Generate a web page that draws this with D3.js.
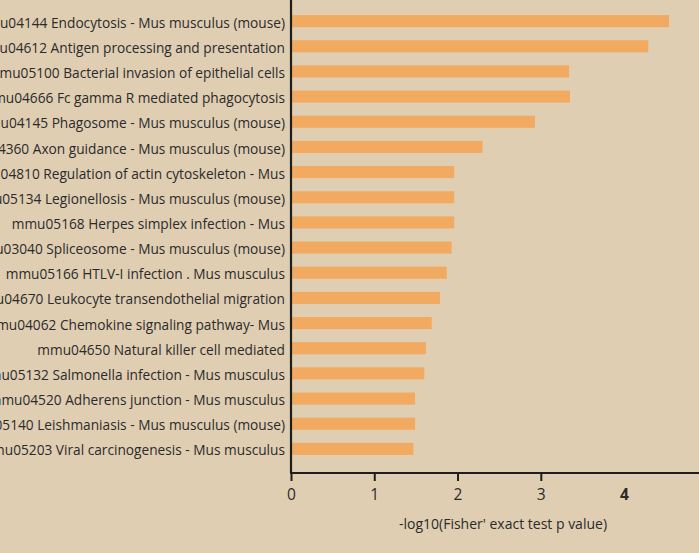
<!DOCTYPE html>
<html>
<head>
<meta charset="utf-8">
<script src="https://cdn.jsdelivr.net/npm/d3@7"></script>
<style>
  html, body { margin: 0; padding: 0; background: #dfceb2; overflow: hidden; }
  svg { display: block; }
</style>
</head>
<body>
<svg id="chart"></svg>
<script>
// pathway names (left side is cut off in the original picture)
const pathways = [
    "mmu04144 Endocytosis - Mus musculus (mouse)",
    "mmu04612 Antigen processing and presentation",
    "mmu05100 Bacterial invasion of epithelial cells",
    "mmu04666 Fc gamma R mediated phagocytosis",
    "mmu04145 Phagosome - Mus musculus (mouse)",
    "mmu04360 Axon guidance - Mus musculus (mouse)",
    "mmu04810 Regulation of actin cytoskeleton - Mus",
    "mmu05134 Legionellosis - Mus musculus (mouse)",
    "mmu05168 Herpes simplex infection - Mus",
    "mmu03040 Spliceosome - Mus musculus (mouse)",
    "mmu05166 HTLV-I infection . Mus musculus",
    "mmu04670 Leukocyte transendothelial migration",
    "mmu04062 Chemokine signaling pathway- Mus",
    "mmu04650 Natural killer cell mediated",
    "mmu05132 Salmonella infection - Mus musculus",
    "mmu04520 Adherens junction - Mus musculus",
    "mmu05140 Leishmaniasis - Mus musculus (mouse)",
    "mmu05203 Viral carcinogenesis - Mus musculus"
];
const negLogP = [4.54, 4.29, 3.34, 3.35, 2.93, 2.30, 1.96, 1.96, 1.96, 1.93,
                 1.87, 1.79, 1.69, 1.62, 1.60, 1.49, 1.49, 1.47];
const xTicks = [0, 1, 2, 3, 4];
const xTitle = "-log10(Fisher' exact test p value)";

const width = 699, height = 553;
const margin = { top: 0, right: 0, bottom: 80, left: 291 };
const axisY = 473;
const font = "'Open Sans', Lato, sans-serif";

const svg = d3.select("#chart")
    .attr("width", width)
    .attr("height", height)
    .style("font-family", font);

const data = pathways.map((p, i) => ({ name: p, value: negLogP[i] }));

const x = d3.scaleLinear()
    .domain([0, 4.9])
    .range([margin.left, width]);

const y = d3.scaleBand()
    .domain(pathways)
    .range([2, 468])
    .padding(0.52);

// bars
svg.append("g")
    .selectAll("rect")
    .data(data)
    .enter().append("rect")
    .attr("x", x(0) + 1)
    .attr("y", d => y(d.name))
    .attr("height", y.bandwidth())
    .attr("width", d => x(d.value) - x(0) - 1)
    .attr("fill", "#f2aa60");

// y axis - labels only, line drawn separately
const yAxis = svg.append("g")
    .attr("transform", `translate(${margin.left},0)`)
    .call(d3.axisLeft(y).tickSize(0).tickPadding(6));
yAxis.select(".domain").remove();
yAxis.selectAll("text")
    .attr("dy", "0.48em")
    .attr("font-size", "13.7px")
    .attr("font-family", font)
    .attr("fill", "#2b2b2b");

svg.append("line")
    .attr("x1", x(0)).attr("x2", x(0))
    .attr("y1", 0).attr("y2", axisY)
    .attr("stroke", "#1e1e1e")
    .attr("stroke-width", 2.2);

// x axis
const xAxis = svg.append("g")
    .attr("transform", `translate(0,${axisY})`)
    .call(d3.axisBottom(x).tickValues(xTicks).tickSize(8).tickPadding(8).tickFormat(d3.format("d")));
xAxis.select(".domain").remove();
xAxis.selectAll(".tick line")
    .attr("stroke", "#1e1e1e")
    .attr("stroke-width", 2);
xAxis.selectAll("text")
    .attr("font-size", "15.5px")
    .attr("font-family", font)
    .attr("fill", "#2b2b2b");
// the "4" tick has no tick mark and a bold label in the original
xAxis.selectAll(".tick").filter(d => d === 4)
    .call(t => t.select("line").remove())
    .select("text").attr("font-weight", "bold");

svg.append("line")
    .attr("x1", x(0) - 1).attr("x2", width)
    .attr("y1", axisY).attr("y2", axisY)
    .attr("stroke", "#1e1e1e")
    .attr("stroke-width", 2.2);

svg.append("text")
    .attr("x", 503)
    .attr("y", 529)
    .attr("text-anchor", "middle")
    .attr("font-size", "14px")
    .attr("fill", "#2b2b2b")
    .text(xTitle);
</script>
</body>
</html>
